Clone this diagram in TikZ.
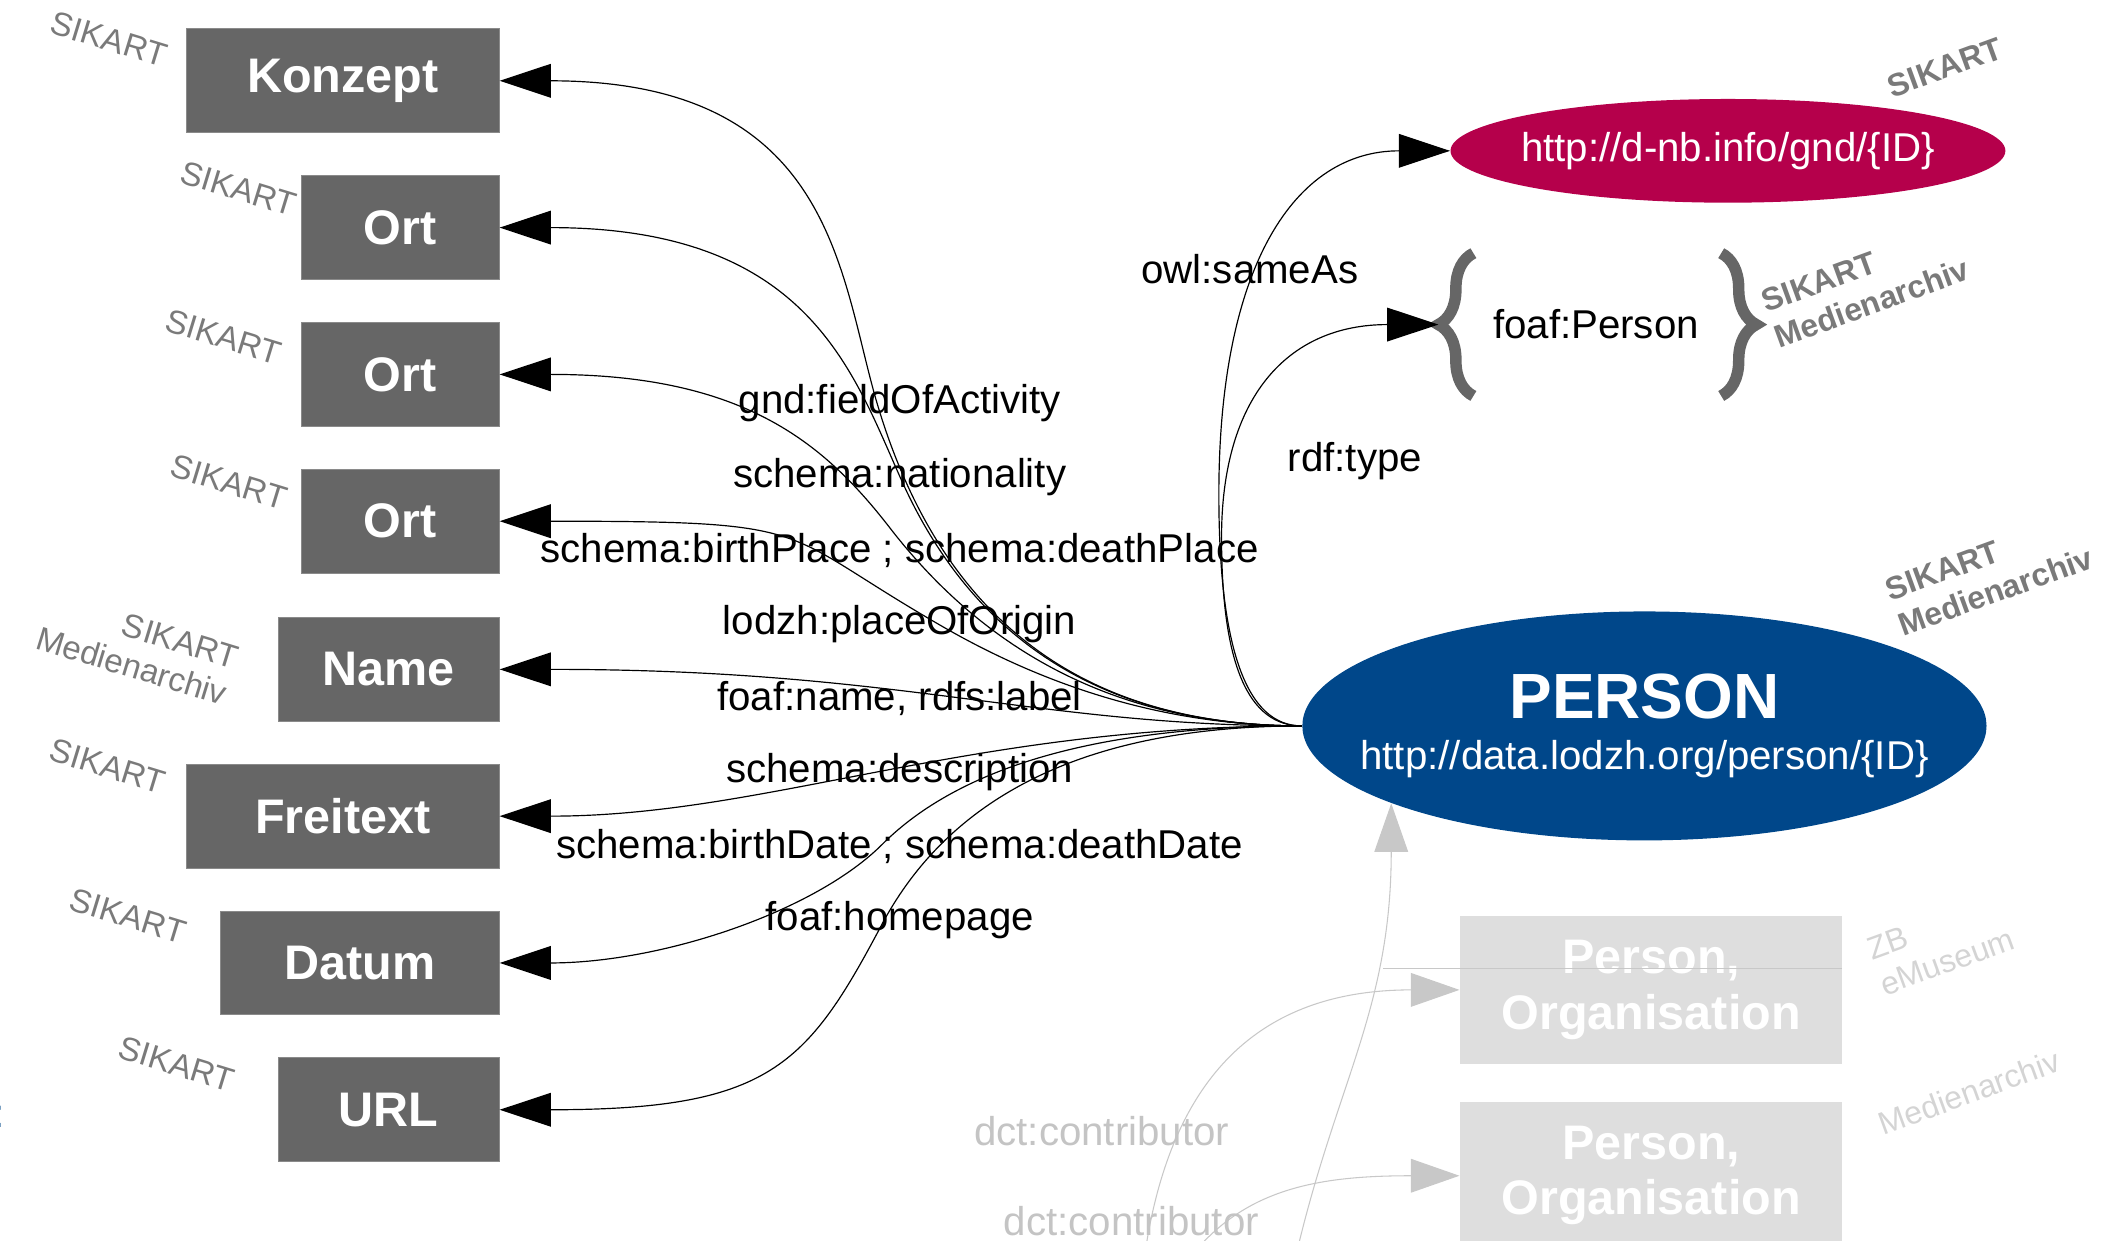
\documentclass[tikz,border=0pt]{standalone}
\usepackage{fontspec}
\setmainfont{Liberation Sans}
\usepackage{tikz}
\usetikzlibrary{shapes,arrows.meta,positioning,calc,decorations.pathreplacing}

\definecolor{boxgray}{HTML}{666666}
\definecolor{boxline}{HTML}{8A8A8A}
\definecolor{gndred}{HTML}{B5004B}
\definecolor{lodblue}{HTML}{00478A}
\definecolor{taggray}{HTML}{7A7A7A}
\definecolor{lightfill}{HTML}{DEDEDE}
\definecolor{lightline}{HTML}{C8C8C8}
\definecolor{lighttext}{HTML}{C4C4C4}
\definecolor{lighttag}{HTML}{D4D4D4}

\tikzset{
  darkbox/.style={fill=boxgray, draw=boxline, line width=0.4pt, text=white,
    font=\bfseries\fontsize{20.5}{24}\selectfont, minimum height=15.4mm, inner sep=0pt, anchor=east},
  orgbox/.style={fill=lightfill, text=white, align=center,
    font=\bfseries\fontsize{20.5}{23.3}\selectfont, minimum width=56.8mm, minimum height=22mm, inner sep=0pt},
  edge/.style={-{Triangle[length=7.6mm,width=5mm]}, line width=0.5pt},
  greyedge/.style={draw=lightline, -{Triangle[length=7.2mm,width=5mm]}, line width=0.45pt},
  lbl/.style={font=\fontsize{17}{20}\selectfont, inner sep=0pt},
  ltag/.style={text=taggray, font=\fontsize{14}{16}\selectfont, rotate=-17, align=right, inner sep=0pt},
  rtag/.style={text=taggray, font=\bfseries\fontsize{13.5}{16}\selectfont, rotate=20, align=left, inner sep=0pt},
  brc/.style={draw=boxgray, line width=1.7mm, decorate, decoration={brace, amplitude=5.2mm}}
}

\begin{document}
\begin{tikzpicture}[x=0.2mm, y=-0.2mm]
\useasboundingbox (0,0) rectangle (1560,921);

% literal / resource boxes on the left
\node[darkbox, minimum width=46.4mm] (konzept) at (371,60) {Konzept};
\node[darkbox, minimum width=29.4mm] (ort1) at (371,169) {Ort};
\node[darkbox, minimum width=29.4mm] (ort2) at (371,278) {Ort};
\node[darkbox, minimum width=29.4mm] (ort3) at (371,387) {Ort};
\node[darkbox, minimum width=32.8mm] (name) at (371,497) {Name};
\node[darkbox, minimum width=46.4mm] (freitext) at (371,606) {Freitext};
\node[darkbox, minimum width=41.4mm] (datum) at (371,715) {Datum};
\node[darkbox, minimum width=32.8mm] (url) at (371,824) {URL};

% source tags
\node[ltag] (tkonzept) at (81,29) {SIKART};
\node[ltag] (tort1) at (177,140) {SIKART};
\node[ltag] (tort2) at (166,250) {SIKART};
\node[ltag] (tort3) at (170,358) {SIKART};
\node[ltag] (tname) at (102,481) {SIKART\\Medienarchiv};
\node[ltag] (tfreitext) at (80,569) {SIKART};
\node[ltag] (tdatum) at (95,680) {SIKART};
\node[ltag] (turl) at (131,790) {SIKART};
\node[lbl, text=lodblue, anchor=east] (colon) at (4,829) {:};

% the person
\node[ellipse, fill=lodblue, text=white, align=center, inner ysep=0pt, inner xsep=-6.6mm,
  minimum width=101.6mm, minimum height=34mm, font=\fontsize{17}{21.6}\selectfont] (person) at (1221,539)
  {{\bfseries\fontsize{27}{30}\selectfont PERSON}\\http://data.lodzh.org/person/\{ID\}};
\node[rtag] (tperson) at (1477,426) {SIKART\\Medienarchiv};

% gnd and type
\node[ellipse, lbl, inner xsep=-1.9mm, fill=gndred, text=white, minimum width=82.4mm, minimum height=15.4mm] (gnd) at (1283,112) {http://d-nb.info/gnd/\{ID\}};
\node[rtag] (tgnd) at (1444,50) {SIKART};
\node[lbl] (foaf) at (1185,241) {foaf:Person};
\draw[brc] (1094,294) -- (1094,188);
\draw[brc] (1278,188) -- (1278,294);
\coordinate (fptip) at (1068,241);
\node[rtag] (tfoaf) at (1385,212) {SIKART\\Medienarchiv};

% properties to the left
\draw[edge] (person.west) .. controls +(-162,0) and +(48,159) .. (652,302) .. controls +(-29,-96) and +(250,0) .. (konzept.east);
\draw[edge] (person.west) .. controls +(-143,0) and +(55,121) .. (670,358) .. controls +(-37,-82) and +(230,0) .. (ort1.east);
\draw[edge] (person.west) .. controls +(-128,0) and +(77,100) .. (660,391) .. controls +(-49,-63) and +(180,0) .. (ort2.east);
\draw[edge] (person.west) .. controls +(-92,0) and +(89,52) .. (696,463) .. controls +(-121,-70) and +(240,0) .. (ort3.east);
\draw[edge] (person.west) .. controls +(-200,0) and +(300,0) .. (name.east);
\draw[edge] (person.west) .. controls +(-250,0) and +(200,0) .. (freitext.east);
\draw[edge] (person.west) .. controls +(-150,0) and +(58,-58) .. (655,627) .. controls +(-50,50) and +(120,0) .. (datum.east);
\draw[edge] (person.west) .. controls +(-157,0) and +(52,-97) .. (655,686) .. controls +(-56,106) and +(200,0) .. (url.east);

\foreach \t [count=\i] in {gnd:fieldOfActivity, schema:nationality, {schema:birthPlace ; schema:deathPlace},
  lodzh:placeOfOrigin, {foaf:name, rdfs:label}, schema:description, {schema:birthDate ; schema:deathDate}, foaf:homepage}
  \node[lbl] (prop\i) at (668,{244.1+54.9*\i}) {\t};

% properties to the right
\draw[edge] (person.west) .. controls +(-41,0) and +(0,115) .. (905,367) .. controls +(0,-170) and +(-115,0) .. (gnd.west);
\draw[edge] (person.west) .. controls +(-40,0) and +(0,94) .. (907,399) .. controls +(0,-104) and +(-112,0) .. (fptip);
\node[lbl] (owl) at (928,200) {owl:sameAs};
\node[lbl] (rdf) at (1006,342) {rdf:type};

% contributors (greyed out)
\node[orgbox] (org1) at (1226,735) {Person,\\Organisation};
\node[orgbox] (org2) at (1226,873) {Person,\\Organisation};
\draw[lightline, line width=0.3pt] (1027,719) -- (1368,719);
\node[rtag, text=lighttag, font=\fontsize{13.5}{16}\selectfont] (tzb) at (1441,701) {ZB\\eMuseum};
\node[rtag, text=lighttag, font=\fontsize{13.5}{16}\selectfont] (tmed) at (1462,811) {Medienarchiv};
\coordinate (c1) at (851,925);
\coordinate (c2) at (891,925);
\coordinate (c3) at (964,925);
\draw[greyedge] (c1) .. controls +(20,-124) and +(-150,0) .. (org1.west);
\draw[greyedge] (c2) .. controls +(40,-44) and +(-100,0) .. (org2.west);
\draw[greyedge] (c3) .. controls +(30,-124) and +(0,150) .. (person.197);
\node[lbl, text=lighttext] (dct1) at (818,840) {dct:contributor};
\node[lbl, text=lighttext] (dct2) at (840,907) {dct:contributor};
\end{tikzpicture}
\end{document}
